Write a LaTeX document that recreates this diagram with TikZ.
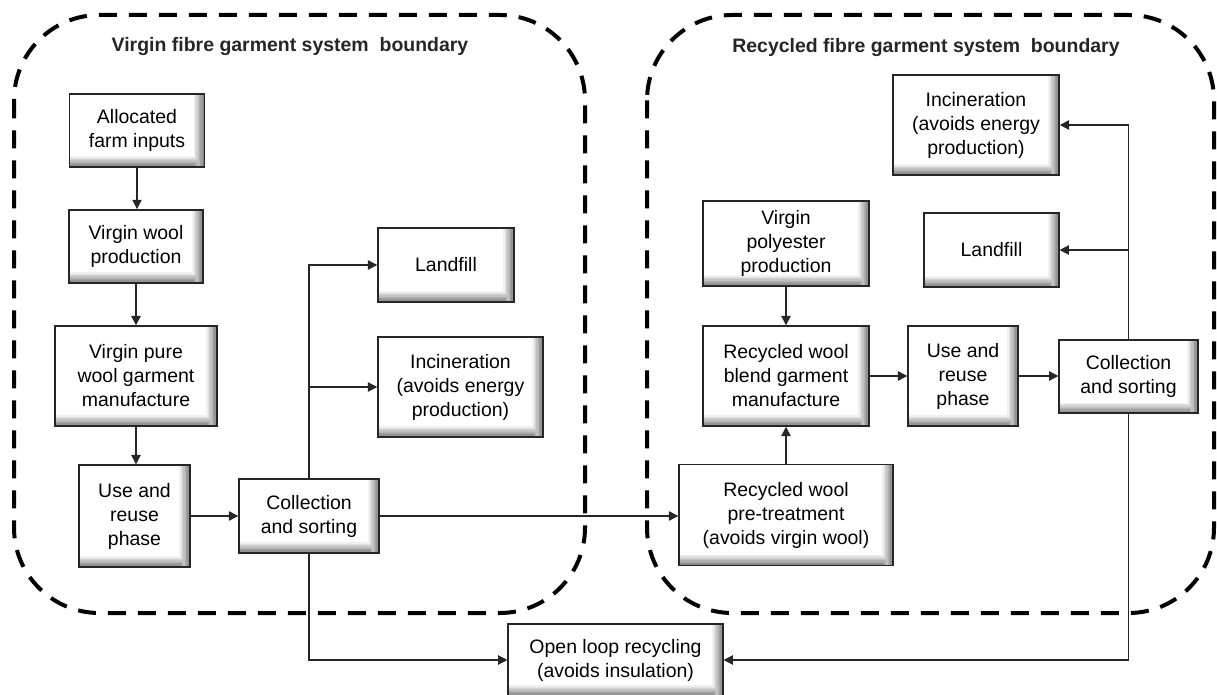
\documentclass[tikz,border=0pt]{standalone}
\usepackage{fontspec}
\setmainfont{Liberation Sans}
\usepackage{tikz}
\usetikzlibrary{arrows.meta,positioning,calc}

\begin{document}
\begin{tikzpicture}[x=0.75pt,y=-0.75pt,
  font=\fontsize{14.6}{18}\selectfont,
  b/.style={draw=black!85,line width=1.1pt,fill=white,align=center,inner sep=2pt,
    path picture={
      \foreach \k [evaluate=\k as \g using int(6*\k), evaluate=\k as \w using 9-\k] in {1,...,8}{
        \fill[black!\g] ([xshift=-\w pt]path picture bounding box.north east) rectangle (path picture bounding box.south east);
        \fill[black!\g] ([yshift=\w pt]path picture bounding box.south west) rectangle ([xshift=-9pt+\w pt]path picture bounding box.south east);
      }}},
  bound/.style={line width=3pt,dash pattern=on 13.5pt off 9pt,rounded corners=64pt},
  boundtitle/.style={font=\fontsize{14.6}{18}\selectfont\bfseries,text=black!85},
  arrow/.style={-{Triangle[length=7pt,width=7pt]},line width=1pt,black!85}
]
  \useasboundingbox (0,0) rectangle (1217,695);

  \draw[bound] (14,15) rectangle (585,613);
  \draw[bound] (647,15) rectangle (1214,613);
  \node[boundtitle] (vtitle) at (290,47) {Virgin fibre garment system \ boundary};
  \node[boundtitle] (rtitle) at (926,48) {Recycled fibre garment system \ boundary};

  \node[b,minimum width=101pt,minimum height=55pt] (farm) at (137,130.5) {Allocated\\farm inputs};
  \node[b,minimum width=100.5pt,minimum height=55pt] (wool) at (136,246.5) {Virgin wool\\production};
  \node[b,minimum width=121.5pt,minimum height=75pt] (pure) at (136,376) {Virgin pure\\wool garment\\manufacture};
  \node[b,minimum width=83pt,minimum height=76.5pt] (usel) at (134.5,516) {Use and\\reuse\\phase};
  \node[b,minimum width=105pt,minimum height=55.5pt] (colll) at (309,516) {Collection\\and sorting};
  \node[b,minimum width=102pt,minimum height=55.5pt] (landl) at (446,265) {Landfill};
  \node[b,minimum width=123.75pt,minimum height=75pt] (incl) at (460.5,387) {Incineration\\(avoids energy\\production)};
  \node[b,minimum width=161pt,minimum height=54pt] (open) at (615.5,660) {Open loop recycling\\(avoids insulation)};

  \node[b,minimum width=124.5pt,minimum height=64pt] (poly) at (786,243.5) {Virgin\\polyester\\production};
  \node[b,minimum width=124.5pt,minimum height=75pt] (blend) at (786,376) {Recycled wool\\blend garment\\manufacture};
  \node[b,minimum width=82.5pt,minimum height=75pt] (user) at (963,376) {Use and\\reuse\\phase};
  \node[b,minimum width=104pt,minimum height=55pt] (collr) at (1128.5,376.5) {Collection\\and sorting};
  \node[b,minimum width=124.5pt,minimum height=75pt] (incr) at (976,125) {Incineration\\(avoids energy\\production)};
  \node[b,minimum width=101pt,minimum height=55.5pt] (landr) at (991.5,250) {Landfill};
  \node[b,minimum width=160.5pt,minimum height=75.75pt] (pre) at (786,515) {Recycled wool\\pre-treatment\\(avoids virgin wool)};

  \draw[arrow] (farm.south) -- (farm.south |- wool.north);
  \draw[arrow] (wool.south) -- (wool.south |- pure.north);
  \draw[arrow] (pure.south) -- (pure.south |- usel.north);
  \draw[arrow] (usel) -- (colll);
  \draw[arrow] (colll.north) |- (landl.west);
  \draw[arrow] (colll.north) |- (incl.west);
  \draw[arrow] (colll.south) |- (open.west);
  \draw[arrow] (colll.east) -- (colll.east -| pre.west);
  \draw[arrow] (poly) -- (blend);
  \draw[arrow] (pre) -- (blend);
  \draw[arrow] (blend) -- (user);
  \draw[arrow] (user.east) -- (user.east -| collr.west);
  \draw[arrow] (collr.north) |- (incr.east);
  \draw[arrow] (collr.north) |- (landr.east);
  \draw[arrow] (collr.south) |- (open.east);
\end{tikzpicture}
\end{document}
